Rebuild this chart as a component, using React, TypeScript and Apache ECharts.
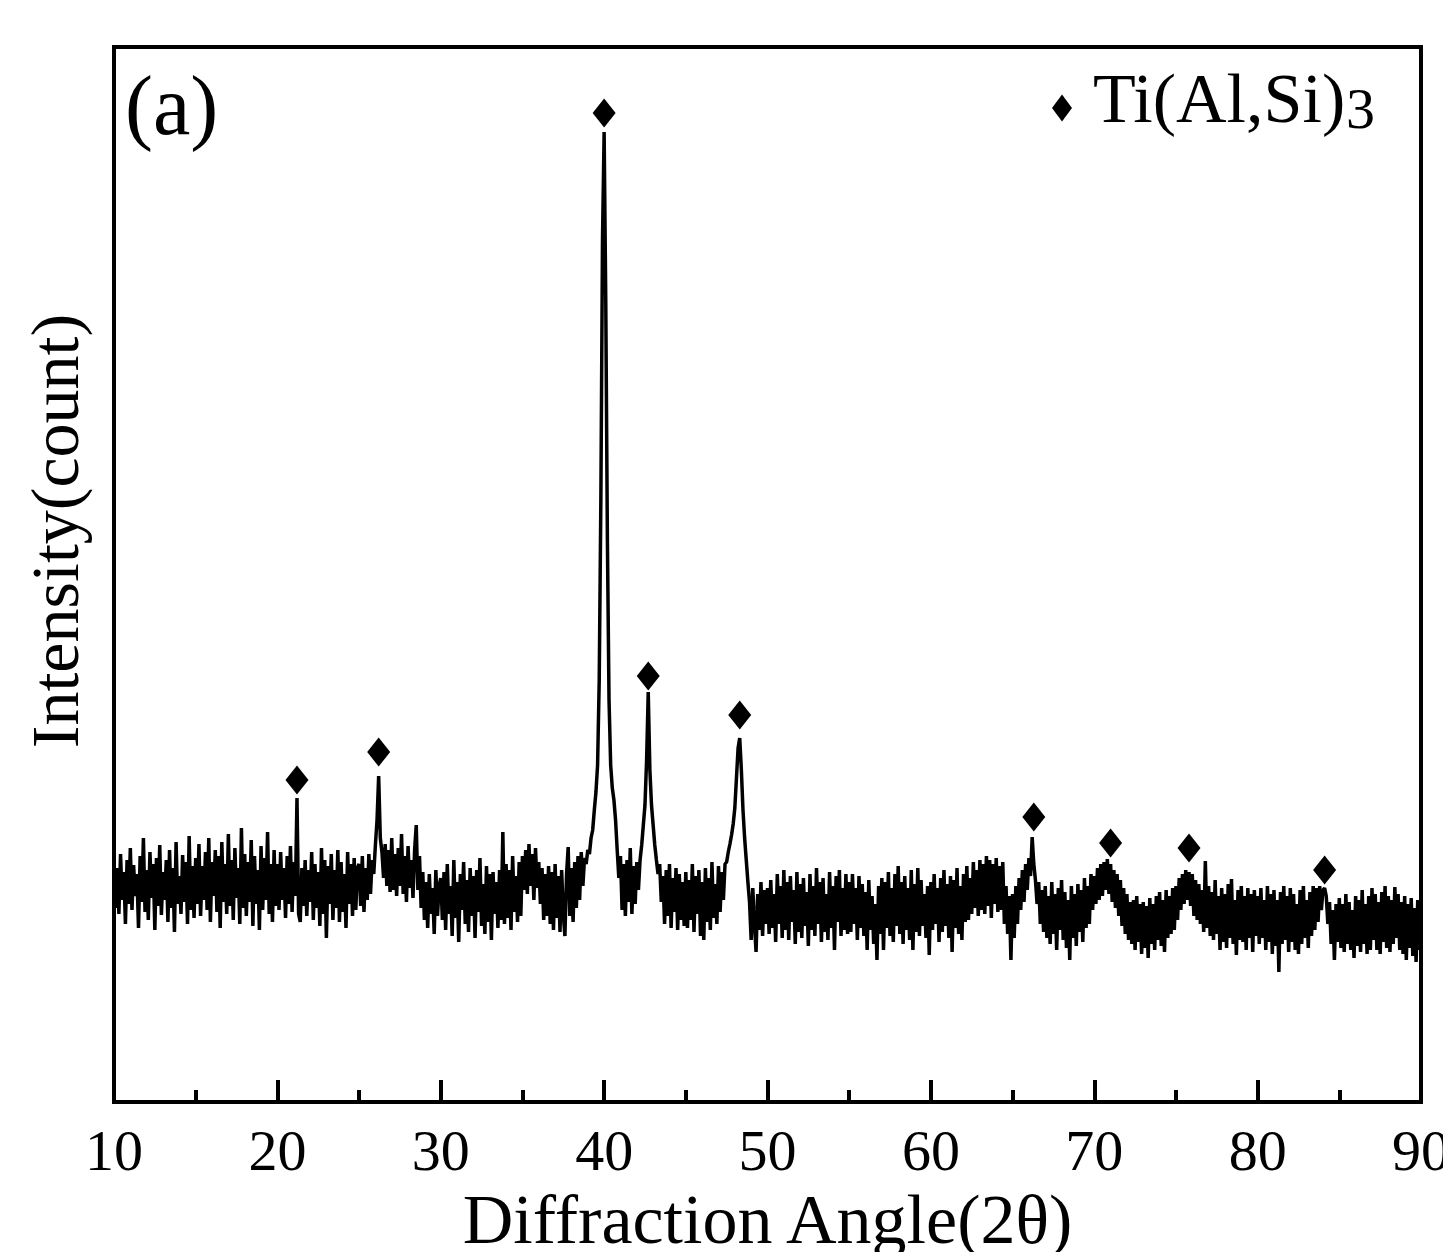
import React, { useEffect, useRef } from "react";
import * as echarts from "echarts";

// Scan start / step (degrees 2θ)
const X_START = 10;
const X_STEP = 0.1;

// Intensity, 0.1° steps (arbitrary counts)
const seg10 = [
  238, 192, 232, 186, 246, 200, 228, 176, 240, 196,
  252, 190, 235, 204, 226, 172, 244, 198, 262, 188,
  230, 180, 248, 202, 236, 170, 242, 194, 255, 185,
  228, 200, 240, 178, 250, 192, 232, 168, 258, 196,
  224, 186, 245, 198, 238, 176, 264, 190, 234, 182,
];
const seg15 = [
  242, 196, 256, 184, 234, 200, 248, 190, 262, 178,
  238, 204, 250, 188, 244, 172, 258, 198, 236, 186,
  266, 194, 240, 180, 252, 202, 232, 176, 272, 192,
  246, 184, 238, 198, 260, 174, 244, 196, 230, 170,
  254, 190, 242, 200, 268, 186, 236, 178, 250, 194,
];
const seg20 = [
  236, 190, 248, 200, 232, 182, 244, 196, 254, 188,
  238, 204, 302, 186, 178, 232, 194, 240, 184, 230,
  198, 248, 180, 236, 192, 228, 174, 252, 186, 240,
  162, 234, 196, 246, 180, 230, 192, 250, 178, 238,
  188, 226, 172, 248, 196, 236, 184, 242, 190, 232,
];
const seg25 = [
  236, 194, 244, 188, 232, 200, 246, 206, 240, 226,
  255, 280, 324, 262, 248, 222, 256, 214, 250, 208,
  262, 210, 246, 204, 252, 214, 266, 206, 244, 198,
  254, 212, 240, 202, 250, 275, 210, 244, 192, 228,
  180, 218, 172, 226, 186, 212, 166, 230, 184, 214,
];
const seg30 = [
  222, 180, 228, 170, 236, 186, 214, 164, 240, 182,
  218, 158, 226, 190, 238, 176, 220, 168, 232, 184,
  224, 162, 230, 188, 242, 174, 216, 166, 234, 178,
  226, 160, 228, 186, 218, 172, 230, 180, 268, 176,
  236, 182, 230, 170, 244, 188, 224, 178, 238, 184,
];
const seg35 = [
  244, 210, 250, 206, 256, 214, 246, 200, 252, 212,
  238, 196, 232, 180, 226, 184, 234, 176, 228, 170,
  236, 182, 224, 168, 230, 186, 164, 226, 253, 184,
  232, 178, 238, 192, 244, 200, 248, 214, 242, 236,
  250, 246, 262, 270, 290, 308, 335, 420, 600, 860,
];
const seg40 = [
  968, 800, 560, 400, 335, 312, 300, 280, 250, 222,
  244, 190, 236, 184, 240, 198, 252, 186, 234, 196,
  238, 210, 240, 255, 275, 295, 340, 408, 330, 295,
  275, 255, 240, 226, 236, 198, 224, 176, 230, 184,
  236, 172, 222, 188, 232, 170, 226, 180, 218, 174,
];
const seg45 = [
  228, 172, 220, 180, 236, 168, 224, 186, 230, 164,
  218, 160, 232, 178, 222, 170, 238, 182, 216, 176,
  234, 188, 228, 200, 236, 238, 248, 256, 265, 276,
  292, 322, 352, 362, 330, 290, 262, 240, 218, 198,
  160, 212, 176, 148, 206, 170, 218, 164, 210, 176,
];
const seg50 = [
  212, 166, 220, 172, 206, 158, 226, 176, 214, 162,
  230, 170, 218, 160, 224, 178, 210, 156, 228, 168,
  216, 162, 222, 174, 208, 154, 226, 170, 214, 164,
  232, 176, 218, 158, 222, 168, 206, 160, 228, 172,
  214, 150, 224, 178, 230, 164, 212, 170, 226, 166,
];
const seg55 = [
  218, 168, 226, 176, 212, 160, 224, 172, 216, 164,
  208, 150, 220, 170, 204, 156, 196, 140, 214, 166,
  222, 150, 218, 172, 228, 164, 212, 158, 226, 174,
  234, 166, 218, 156, 224, 170, 212, 160, 230, 150,
  216, 168, 232, 164, 220, 174, 206, 162, 214, 145,
];
const seg60 = [
  218, 170, 226, 176, 212, 158, 222, 168, 230, 174,
  216, 162, 224, 148, 220, 172, 232, 166, 214, 160,
  226, 178, 234, 180, 222, 186, 238, 192, 230, 184,
  240, 190, 236, 186, 244, 194, 240, 182, 236, 196,
  242, 188, 234, 190, 238, 176, 214, 166, 204, 140,
];
const seg65 = [
  206, 162, 214, 176, 222, 190, 230, 198, 236, 210,
  242, 224, 263, 236, 220, 196, 218, 176, 210, 168,
  214, 162, 204, 156, 218, 166, 206, 150, 212, 170,
  220, 160, 208, 152, 200, 140, 214, 162, 206, 154,
  216, 168, 210, 158, 222, 172, 214, 176, 226, 190,
];
const seg70 = [
  224, 196, 232, 200, 236, 204, 238, 210, 241, 206,
  236, 198, 230, 192, 226, 184, 220, 174, 212, 166,
  206, 160, 198, 156, 200, 150, 204, 158, 196, 146,
  198, 152, 194, 142, 202, 156, 196, 150, 204, 160,
  208, 154, 200, 148, 210, 162, 204, 166, 212, 170,
];
const seg75 = [
  214, 180, 222, 190, 226, 196, 230, 200, 228, 194,
  226, 184, 220, 180, 216, 176, 210, 168, 239, 172,
  214, 164, 208, 160, 220, 166, 204, 150, 212, 158,
  206, 152, 216, 162, 221, 156, 200, 145, 210, 160,
  214, 158, 204, 150, 212, 162, 206, 148, 210, 164,
];
const seg80 = [
  204, 156, 212, 162, 200, 150, 214, 158, 206, 146,
  210, 154, 200, 128, 208, 156, 214, 160, 204, 148,
  212, 158, 206, 150, 196, 146, 210, 156, 214, 162,
  200, 152, 208, 164, 214, 170, 212, 178, 214, 190,
  210, 212, 204, 176, 198, 156, 190, 140, 196, 158,
];
const seg85 = [
  202, 152, 196, 148, 206, 156, 198, 150, 190, 142,
  204, 154, 200, 148, 210, 156, 196, 146, 204, 150,
  212, 160, 206, 150, 198, 146, 208, 158, 214, 152,
  204, 148, 200, 156, 213, 162, 206, 150, 198, 146,
  204, 140, 196, 152, 202, 144, 192, 138, 200, 150,
  176,
];

// Ti(Al,Si)3 peak markers
const peakAngles = [21.2, 26.2, 40.0, 42.7, 48.3, 66.3, 71.0, 75.8, 84.1];
const peakMarkerLevels = [320, 348, 987, 424, 385, 283, 257, 252, 230];

const phaseName = "Ti(Al,Si)";
const phaseSub = "3";
const panelLabel = "(a)";
const xTitle = "Diffraction Angle(2θ)";
const yTitle = "Intensity(count)";

const FONT = '"Liberation Serif", "Times New Roman", serif';
const W = 1443;
const H = 1252;

export default function App() {
  const ref = useRef<HTMLDivElement>(null);
  useEffect(() => {
    if (!ref.current) return;
    const chart = echarts.init(ref.current, null, { renderer: "svg", width: W, height: H });
    const intensity = [
      ...seg10, ...seg15, ...seg20, ...seg25, ...seg30, ...seg35, ...seg40, ...seg45,
      ...seg50, ...seg55, ...seg60, ...seg65, ...seg70, ...seg75, ...seg80, ...seg85,
    ];
    const lineData = intensity.map((v, i) => [Number((X_START + i * X_STEP).toFixed(1)), v]);
    const markerData = peakAngles.map((a, i) => [a, peakMarkerLevels[i]]);

    chart.setOption({
      animation: false,
      backgroundColor: "#fff",
      grid: {
        left: 114,
        right: 22,
        top: 47,
        bottom: 150,
        containLabel: false,
        outerBoundsMode: "none",
        show: true,
        borderColor: "#000",
        borderWidth: 4,
        backgroundColor: "transparent",
      },
      xAxis: {
        type: "value",
        min: 10,
        max: 90,
        interval: 10,
        name: xTitle,
        nameLocation: "middle",
        nameGap: 82,
        nameTextStyle: { fontFamily: FONT, fontSize: 70, color: "#000" },
        axisLine: { show: false },
        axisTick: { show: true, inside: true, length: 20, lineStyle: { color: "#000", width: 4 } },
        minorTick: { show: true, splitNumber: 2, length: 10, lineStyle: { color: "#000", width: 4 } },
        splitLine: { show: false },
        minorSplitLine: { show: false },
        axisLabel: {
          fontFamily: FONT,
          fontSize: 58,
          color: "#000",
          margin: 19,
          showMinLabel: true,
          showMaxLabel: true,
        },
      },
      yAxis: {
        type: "value",
        min: -2,
        max: 1053,
        show: false,
        splitLine: { show: false },
      },
      series: [
        {
          type: "line",
          data: lineData,
          showSymbol: false,
          symbol: "none",
          lineStyle: { color: "#000", width: 3.5 },
          z: 2,
        },
        {
          type: "scatter",
          name: phaseName + phaseSub,
          data: markerData,
          symbol: "diamond",
          symbolSize: [23, 29],
          itemStyle: { color: "#000", opacity: 1 },
          z: 3,
        },
      ],
      graphic: [
        {
          type: "text",
          x: 125,
          y: 105,
          style: {
            text: panelLabel,
            fontFamily: FONT,
            fontSize: 84,
            fill: "#000",
            align: "left",
            verticalAlign: "middle",
            textAlign: "left",
            textVerticalAlign: "middle",
          },
        },
        {
          type: "text",
          x: 55,
          y: 531,
          rotation: Math.PI / 2,
          style: {
            text: yTitle,
            fontFamily: FONT,
            fontSize: 68,
            fill: "#000",
            align: "center",
            verticalAlign: "middle",
            textAlign: "center",
            textVerticalAlign: "middle",
          },
        },
        {
          type: "polygon",
          shape: { points: [[1052, 108], [1062, 94.5], [1072, 108], [1062, 121.5]] },
          style: { fill: "#000" },
        },
        {
          type: "text",
          x: 1093,
          y: 98,
          style: {
            text: phaseName,
            fontFamily: FONT,
            fontSize: 70,
            fill: "#000",
            align: "left",
            verticalAlign: "middle",
            textAlign: "left",
            textVerticalAlign: "middle",
          },
        },
        {
          type: "text",
          x: 1346,
          y: 108,
          style: {
            text: phaseSub,
            fontFamily: FONT,
            fontSize: 58,
            fill: "#000",
            align: "left",
            verticalAlign: "middle",
            textAlign: "left",
            textVerticalAlign: "middle",
          },
        },
      ],
    });
    return () => chart.dispose();
  }, []);
  return (
    <div
      ref={ref}
      style={{ position: "fixed", left: 0, top: 0, width: W, height: H, background: "#fff" }}
    />
  );
}
